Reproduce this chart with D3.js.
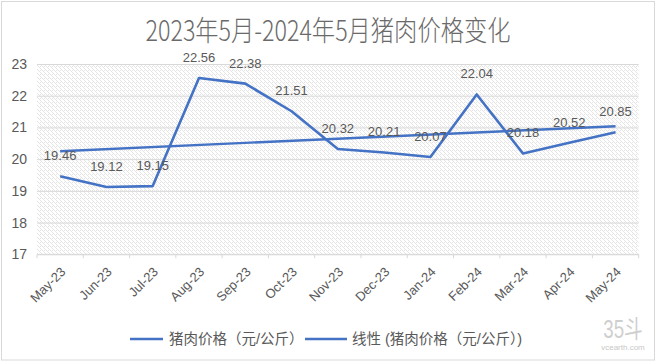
<!DOCTYPE html>
<html>
<head>
<meta charset="utf-8">
<script src="https://cdn.jsdelivr.net/npm/d3@7"></script>
<style>
  body { margin: 0; background: #fff; }
  text { font-family: "Liberation Sans", "Noto Sans CJK SC", sans-serif; fill: #595959; }
</style>
</head>
<body>
<div class="chart"></div>
<script>
// data
var months = ["May-23", "Jun-23", "Jul-23", "Aug-23", "Sep-23", "Oct-23", "Nov-23",
              "Dec-23", "Jan-24", "Feb-24", "Mar-24", "Apr-24", "May-24"];
var prices = [19.46, 19.12, 19.15, 22.56, 22.38, 21.51, 20.32, 20.21, 20.07, 22.04, 20.18, 20.52, 20.85];
var yTicks = [17, 18, 19, 20, 21, 22, 23];
var title = "2023年5月-2024年5月猪肉价格变化";
var seriesName = "猪肉价格（元/公斤）";
var trendName = "线性 (猪肉价格（元/公斤）)";

var W = 657, H = 362;
var plot = {left: 37, right: 638.7, top: 64, bottom: 254.3};
var blue = "#4472C4";

var svg = d3.select(".chart").append("svg")
    .attr("width", W)
    .attr("height", H);

// hatch pattern for plot background
var defs = svg.append("defs");
var pat = defs.append("pattern")
    .attr("id", "hatch")
    .attr("patternUnits", "userSpaceOnUse")
    .attr("width", 4)
    .attr("height", 4);
pat.append("rect").attr("width", 4).attr("height", 4).attr("fill", "#fff");
pat.append("path")
    .attr("d", "M-1,1 l2,2 M0,0 l4,4 M3,-1 l2,2")
    .attr("stroke", "#e2e2e2")
    .attr("stroke-width", 0.9);

// outer border
svg.append("rect")
    .attr("x", 1.5).attr("y", 1.5)
    .attr("width", 653).attr("height", 358.5)
    .attr("fill", "#fff")
    .attr("stroke", "#d9d9d9");

// title
svg.append("text")
    .attr("transform", "translate(328,41) scale(0.97,1.18)")
    .attr("text-anchor", "middle")
    .style("font-family", "'Noto Sans CJK SC', sans-serif")
    .style("font-weight", "300")
    .style("font-size", "24px")
    .style("fill", "#6a6a6a")
    .text(title);

// scales
var x = d3.scaleBand().domain(months).range([plot.left, plot.right]);
var y = d3.scaleLinear().domain([17, 23]).range([plot.bottom, plot.top]);
var cx = function (d) { return x(d) + x.bandwidth() / 2; };

// plot background
svg.append("rect")
    .attr("x", plot.left).attr("y", plot.top)
    .attr("width", plot.right - plot.left)
    .attr("height", plot.bottom - plot.top)
    .attr("fill", "url(#hatch)");

// gridlines
svg.append("g")
    .attr("class", "grid")
    .attr("transform", "translate(" + plot.left + ",0)")
    .call(d3.axisLeft(y).tickValues(yTicks).tickSize(-(plot.right - plot.left)).tickFormat(""))
    .call(function (g) { g.select(".domain").remove(); })
    .call(function (g) { g.selectAll("line").attr("stroke", "#d9d9d9"); });

// y axis labels
svg.append("g")
    .attr("transform", "translate(" + plot.left + ",0)")
    .call(d3.axisLeft(y).tickValues(yTicks).tickSize(0).tickPadding(10).tickFormat(d3.format("d")))
    .call(function (g) { g.select(".domain").remove(); })
    .call(function (g) {
        g.selectAll("text")
            .attr("fill", "#595959")
            .style("font-size", "14px")
            .attr("font-family", null);
    });

// x axis line + boundary ticks
var xg = svg.append("g");
xg.append("line")
    .attr("x1", plot.left).attr("x2", plot.right)
    .attr("y1", plot.bottom).attr("y2", plot.bottom)
    .attr("stroke", "#d9d9d9");
var bounds = months.map(function (d) { return x(d); }).concat([x(months[months.length - 1]) + x.bandwidth()]);
xg.selectAll(".tick-b")
    .data(bounds)
    .enter().append("line")
    .attr("class", "tick-b")
    .attr("x1", function (d) { return d; }).attr("x2", function (d) { return d; })
    .attr("y1", plot.bottom).attr("y2", plot.bottom + 4)
    .attr("stroke", "#d9d9d9");

// x labels rotated
xg.selectAll(".xlab")
    .data(months)
    .enter().append("text")
    .attr("class", "xlab")
    .attr("transform", function (d) { return "translate(" + (cx(d) + 3) + "," + (plot.bottom + 15) + ") rotate(-45)"; })
    .attr("text-anchor", "end")
    .attr("dy", "0.35em")
    .style("font-size", "13px")
    .text(function (d) { return d; });

// linear trendline (least squares, like the spreadsheet trendline)
var n = prices.length;
var mx = d3.mean(prices, function (d, i) { return i; });
var my = d3.mean(prices);
var sxy = d3.sum(prices, function (d, i) { return (i - mx) * (d - my); });
var sxx = d3.sum(prices, function (d, i) { return (i - mx) * (i - mx); });
var slope = sxy / sxx, icpt = my - slope * mx;
var trend = [0, n - 1].map(function (i) { return {m: months[i], v: icpt + slope * i}; });

var line = d3.line()
    .x(function (d) { return cx(d.m); })
    .y(function (d) { return y(d.v); });

var pts = months.map(function (m, i) { return {m: m, v: prices[i]}; });

svg.append("path")
    .datum(pts)
    .attr("d", line)
    .attr("fill", "none")
    .attr("stroke", blue)
    .attr("stroke-width", 2.6)
    .attr("stroke-linejoin", "round");

svg.append("path")
    .datum(trend)
    .attr("d", line)
    .attr("fill", "none")
    .attr("stroke", blue)
    .attr("stroke-width", 2.4);

// data labels
svg.selectAll(".dlab")
    .data(pts)
    .enter().append("text")
    .attr("class", "dlab")
    .attr("x", function (d) { return cx(d.m); })
    .attr("y", function (d) { return y(d.v) - 16; })
    .attr("text-anchor", "middle")
    .style("font-size", "13px")
    .text(function (d) { return d.v.toFixed(2); });

// legend
var leg = svg.append("g");
leg.append("line").attr("x1", 130).attr("x2", 163).attr("y1", 339).attr("y2", 339)
    .attr("stroke", blue).attr("stroke-width", 2.6);
leg.append("text").attr("x", 169).attr("y", 344).style("font-size", "14.5px").text(seriesName);
leg.append("line").attr("x1", 305).attr("x2", 347).attr("y1", 339).attr("y2", 339)
    .attr("stroke", blue).attr("stroke-width", 2.6);
leg.append("text").attr("x", 352).attr("y", 344).style("font-size", "14.5px").text(trendName);

// watermark
svg.append("text")
    .attr("transform", "translate(623,338) scale(0.85,1.15)")
    .attr("text-anchor", "middle")
    .style("font-size", "22px")
    .style("fill", "#cfcfcf")
    .text("35斗");
svg.append("text")
    .attr("x", 623).attr("y", 350)
    .attr("text-anchor", "middle")
    .style("font-size", "8px")
    .style("fill", "#c8c8c8")
    .text("vcearth.com");
</script>
</body>
</html>
